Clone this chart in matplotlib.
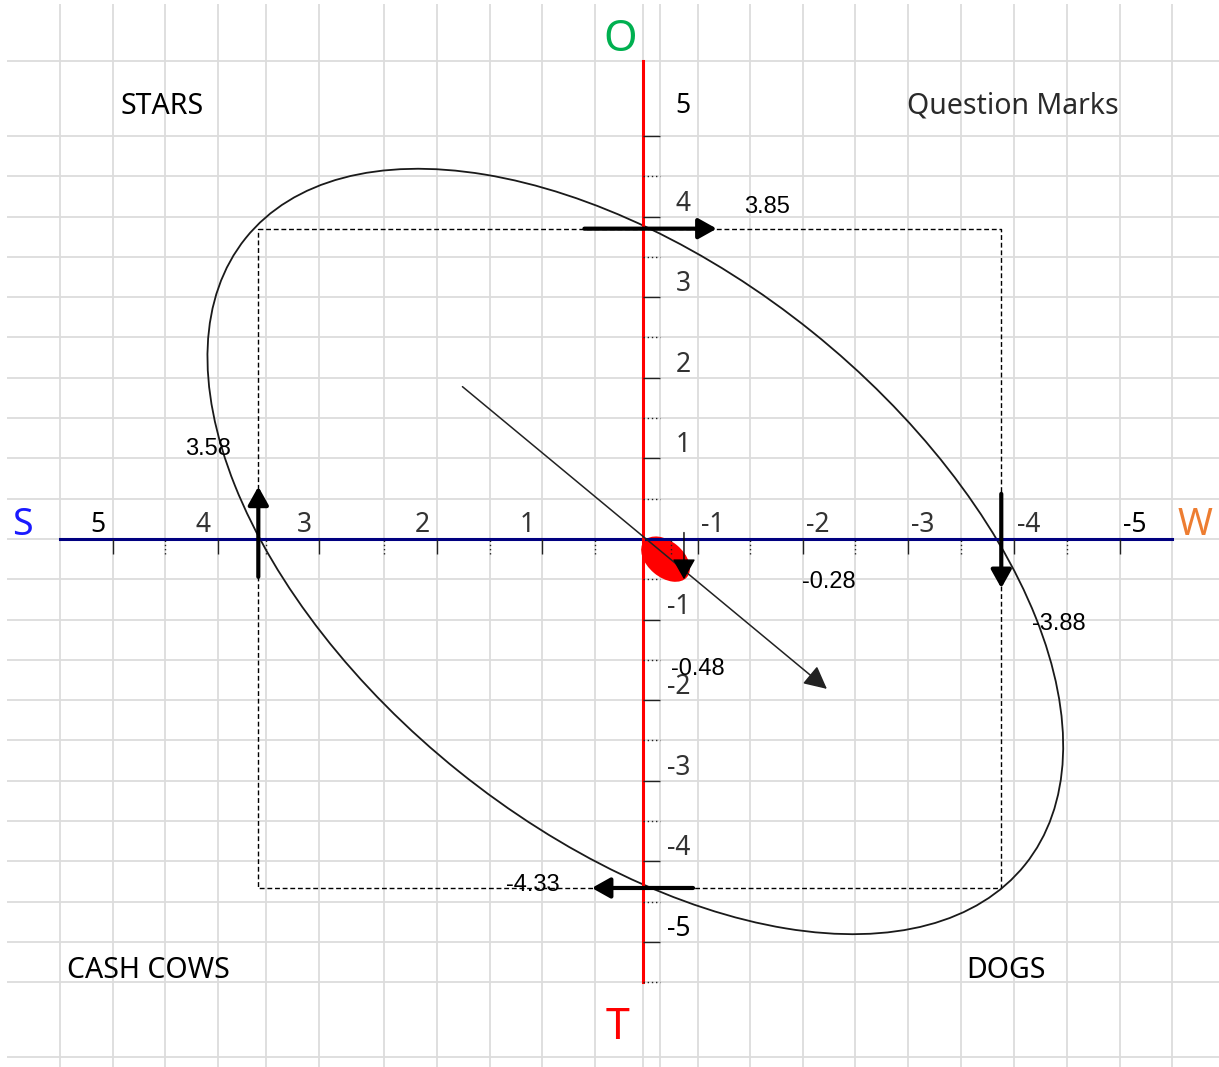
import numpy as np
import matplotlib
matplotlib.use("Agg")
import matplotlib.pyplot as plt
from matplotlib.patches import Ellipse
from matplotlib.transforms import ScaledTranslation

# SWOT totals (S, W on the horizontal axis, O, T on the vertical one)
strength = 3.58
weakness = -3.88
opportunity = 3.85
threat = -4.33
sum_sw = -0.28
sum_ot = -0.48

# tick values
major_ticks = [5, 4, 3, 2, 1, -1, -2, -3, -4, -5]
minor_ticks = [4.5, 3.5, 2.5, 1.5, 0.5, -0.5, -1.5, -2.5, -3.5, -4.5]

quadrant_names = ["STARS", "Question Marks", "CASH COWS", "DOGS"]

# drawn marks (axis units)
vector_start = (1.76, 1.89)
vector_end = (-2.23, -1.86)
point_drawn = (-0.745, -0.5)

# the sheet behind the chart has uneven column widths, so the S-W axis
# is mapped through the column edges (value -> pixel column)
col_val = np.array([6.07, 5.5, 5, 4.5, 4, 3.5, 3, 2.5, 2, 1.5, 1, 0.5, 0,
                    -1, -1.5, -2, -2.5, -3, -3.5, -4, -4.5, -5, -5.5, -5.95])
col_px = np.array([0, 60, 113, 165, 218, 266, 319, 384, 437, 490, 542, 595, 643,
                   698, 750, 803, 855, 908, 961, 1014, 1067, 1120, 1172, 1219])


# forward has to grow with the value, so use minus the pixel column
def col_fwd(v):
    return -np.interp(v, col_val[::-1], col_px[::-1])


def col_inv(t):
    return np.interp(-t, col_px, col_val)


grid_cols = [5.5, 5, 4.5, 4, 3.5, 3, 2.5, 2, 1.5, 1, 0.5, 0, -0.3,
             -1, -1.5, -2, -2.5, -3, -3.5, -4, -4.5, -5, -5.5]
grid_rows = [5.93] + list(np.arange(5, -5.51, -0.5)) + [-6.43]

fig = plt.figure(figsize=(12.19, 10.67), dpi=100)
ax = fig.add_axes([0, 0, 1, 1])
ax.set_xscale("function", functions=(col_fwd, col_inv))
ax.set_xlim(col_val[0], col_val[-1])
ax.set_ylim(-6.551, 6.687)
ax.set_axis_off()

# sheet grid
ax.vlines(grid_cols, -6.6, 6.64, color="#dcdcdc", lw=1.3, zorder=0)
ax.hlines(grid_rows, 6.0, col_val[-1], color="#dcdcdc", lw=1.3, zorder=0)

# dashed box through the four totals
ax.plot([strength, weakness, weakness, strength, strength],
        [opportunity, opportunity, threat, threat, opportunity],
        color="black", lw=1, ls=(0, (3.5, 2)), zorder=2)

# big oval round the box
oval_center = (0.08, -0.155)
oval = Ellipse((0, 0), 10.0, 5.64, angle=-38.8, fill=False, ec="#1a1a1a", lw=1.3,
               transform=fig.dpi_scale_trans + ScaledTranslation(*oval_center, ax.transData),
               zorder=2)
ax.add_patch(oval)

# red blob at the result
blob_center = (-0.41, -0.25)
blob = Ellipse((0, 0), 0.56, 0.36, angle=-40, color="red", lw=0,
               transform=fig.dpi_scale_trans + ScaledTranslation(*blob_center, ax.transData),
               zorder=3)
ax.add_patch(blob)

# axes
ax.plot([5.5, -5.5], [0, 0], color="#000080", lw=2.2, zorder=4)
ax.plot([0, 0], [5.93, -5.5], color="red", lw=2.2, zorder=4)

# ticks
ax.vlines(major_ticks, -0.19, 0, color="#222222", lw=1, zorder=4)
ax.vlines(minor_ticks, -0.19, 0, color="#222222", lw=1, linestyles=(0, (1, 2)), zorder=4)
ax.hlines(major_ticks, 0, -0.31, color="#222222", lw=1, zorder=4)
ax.hlines(minor_ticks + [-5.5], 0, -0.31, color="#222222", lw=1, linestyles=(0, (1, 2)), zorder=4)

for v in major_ticks:
    w = "bold" if abs(v) == 5 else "normal"
    c = "black" if abs(v) == 5 else "#333333"
    ax.text(v + 0.14 * np.sign(v), 0.17, str(v), ha="center", va="center",
            fontsize=19, family="Noto Sans", weight=w, color=c, zorder=6)
    # vertical labels sit in the sheet row just above their tick
    row_above = min(r for r in grid_rows if r > v)
    ax.text(-0.87, (v + row_above) / 2 - 0.09, str(v), ha="right", va="center",
            fontsize=19, family="Noto Sans", weight=w, color=c, zorder=6)


def thick_arrow(start, tip):
    ax.annotate("", xy=tip, xytext=start, zorder=5,
                arrowprops=dict(arrowstyle="-|>,head_length=0.5,head_width=0.28",
                                mutation_scale=22, lw=3, color="black",
                                shrinkA=0, shrinkB=0))


thick_arrow((strength, -0.47), (strength, 0.65))
thick_arrow((weakness, 0.56), (weakness, -0.61))
thick_arrow((0.6, opportunity), (-1.18, opportunity))
thick_arrow((-0.91, threat), (0.53, threat))

# resultant direction
ax.annotate("", xy=vector_end, xytext=vector_start, zorder=5,
            arrowprops=dict(arrowstyle="-|>,head_length=0.7,head_width=0.35",
                            mutation_scale=20, lw=1.1, color="#222222",
                            shrinkA=0, shrinkB=0))
ax.annotate("", xy=point_drawn, xytext=(point_drawn[0], 0.08), zorder=5,
            arrowprops=dict(arrowstyle="-|>,head_length=0.8,head_width=0.45",
                            mutation_scale=16, lw=1, color="black",
                            shrinkA=0, shrinkB=0))

# value labels
value_font = dict(fontsize=17, family="Liberation Sans", color="black",
                  ha="center", va="center", zorder=6)
ax.text(4.09, 1.12, f"{strength:.2f}", **value_font)
ax.text(-1.66, 4.12, f"{opportunity:.2f}", **value_font)
ax.text(-2.25, -0.53, f"{sum_sw:.2f}", **value_font)
ax.text(-4.42, -1.05, f"{weakness:.2f}", **value_font)
ax.text(-1.0, -1.61, f"{sum_ot:.2f}", **value_font)
ax.text(1.09, -4.29, f"{threat:.2f}", **value_font)

# quadrant names
quad_xy = [(4.53, 5.37), (-3.99, 5.37), (4.66, -5.35), (-3.92, -5.35)]
for name, (qx, qy) in zip(quadrant_names, quad_xy):
    ax.text(qx, qy, name, ha="center", va="center", fontsize=20.5,
            family="Noto Sans", color="black" if name != "Question Marks" else "#2a2a2a",
            zorder=6)

# axis letters
ax.text(5.86, 0.17, "S", ha="center", va="center", fontsize=27, family="Noto Sans", color="#1a1aff")
ax.text(-5.72, 0.17, "W", ha="center", va="center", fontsize=27, family="Noto Sans", color="#ed7d31")
ax.text(0.24, 6.19, "O", ha="center", va="center", fontsize=31, family="Noto Sans", color="#00b050")
ax.text(0.27, -6.07, "T", ha="center", va="center", fontsize=31, family="Noto Sans", color="#ff0000")

fig.savefig("out.png", dpi=100)
